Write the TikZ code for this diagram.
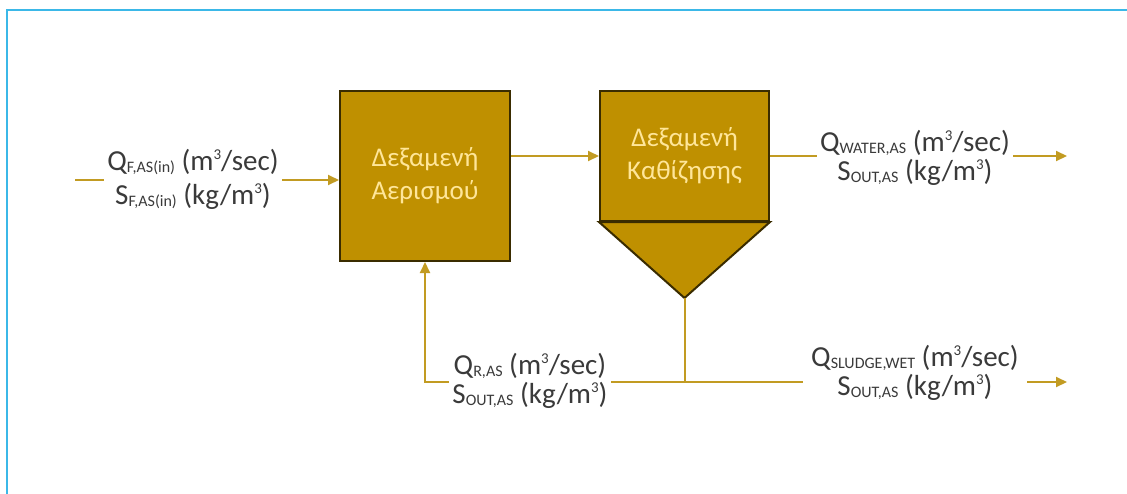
\documentclass[tikz,border=0pt]{standalone}
\usepackage{fontspec}
\setmainfont{Carlito}
\usetikzlibrary{arrows.meta}
\definecolor{gold}{HTML}{BF9000}
\definecolor{linegold}{HTML}{C29B22}
\definecolor{boxedge}{HTML}{3A2C00}
\definecolor{boxtext}{HTML}{FFE699}
\definecolor{frameblue}{HTML}{3BB8E8}
\definecolor{labeltext}{HTML}{3A3A3A}
\newcommand{\sub}[1]{\raisebox{-2pt}{\fontsize{16}{17}\selectfont #1}}
\newcommand{\sups}[1]{\raisebox{11pt}{\fontsize{15}{16}\selectfont #1}}
\tikzset{
  tank/.style={draw=boxedge, line width=2pt, fill=gold, text=boxtext, align=center, font=\fontsize{27}{33}\selectfont, inner sep=0pt},
  flow/.style={draw=linegold, line width=2pt},
  arr/.style={flow, -{Triangle[length=11pt,width=10pt]}},
  lbl/.style={fill=white, text=labeltext, align=center, font=\fontsize{29}{29}\selectfont, inner sep=3pt}
}
\begin{document}
\begin{tikzpicture}[x=1pt,y=-1pt]
\useasboundingbox (0,0) rectangle (1127,493);
\draw[frameblue, line width=2.5pt] (7,500) -- (7,10) -- (1135,10);
% tanks
\node[tank, minimum width=170pt, minimum height=170pt] (aer) at (425,176) {Δεξαμενή\\Αερισμού};
\node[tank, minimum width=169pt, minimum height=130pt] (sed) at (684.5,156) {Δεξαμενή\\Καθίζησης};
\coordinate (apex) at (684.5,298);
\draw[draw=boxedge, line width=2pt, fill=gold, line join=miter] (sed.south west) -- (sed.south east) -- (apex) -- cycle;
% coordinates
\coordinate (in) at (75,180);
\coordinate (outw) at (1067,156);
\coordinate (j) at (684.5,382);
\coordinate (c) at (425,382);
\coordinate (outs) at (1067,382);
% connectors
\draw[arr] (in) -- (aer.west |- in);
\draw[arr] (aer.east |- sed.west) -- (sed.west);
\draw[arr] (sed.east) -- (outw);
\draw[flow] (apex) -- (j);
\draw[arr] (j) -- (c) -- (aer.south);
\draw[arr] (j) -- (outs);
% labels
\node[lbl] (lin) at (193,179) {Q\sub{F,AS(in)} (m\sups{3}/sec)\\[5pt]S\sub{F,AS(in)} (kg/m\sups{3})};
\node[lbl] (lw) at (915,158) {Q\sub{WATER,AS} (m\sups{3}/sec)\\S\sub{OUT,AS} (kg/m\sups{3})};
\node[lbl] (lr) at (530,381) {Q\sub{R,AS} (m\sups{3}/sec)\\S\sub{OUT,AS} (kg/m\sups{3})};
\node[lbl, inner xsep=8pt] (ls) at (915,373) {Q\sub{SLUDGE,WET} (m\sups{3}/sec)\\S\sub{OUT,AS} (kg/m\sups{3})};
\end{tikzpicture}
\end{document}
